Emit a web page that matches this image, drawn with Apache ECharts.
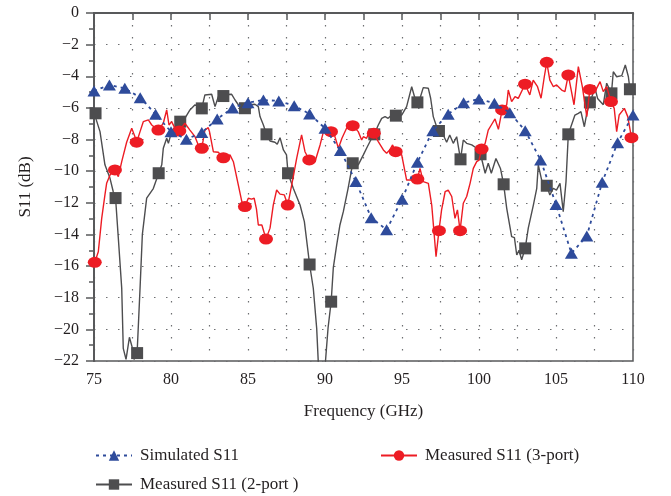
<!DOCTYPE html>
<html>
<head>
<meta charset="utf-8">
<script src="https://cdn.jsdelivr.net/npm/echarts@6/dist/echarts.min.js"></script>
<style>html,body{margin:0;padding:0;background:#fff}#c{width:671px;height:496px}</style>
</head>
<body>
<div id="c"></div>
<script>
// ---- Data ----
const xTicks = [75, 80, 85, 90, 95, 100, 105, 110];
const yTicks = [0, -2, -4, -6, -8, -10, -12, -14, -16, -18, -20, -22];

const simFreq = [75,76,77,78,79,80,81,82,83,84,85,86,87,88,89,90,91,92,93,94,95,96,97,98,99,100,101,102,103,104,105,106,107,108,109,110];
const simS11  = [-4.93,-4.55,-4.76,-5.35,-6.4,-7.5,-7.98,-7.56,-6.7,-6.0,-5.67,-5.5,-5.56,-5.86,-6.38,-7.29,-8.7,-10.66,-12.94,-13.7,-11.78,-9.44,-7.44,-6.4,-5.67,-5.44,-5.71,-6.3,-7.44,-9.29,-12.1,-15.19,-14.1,-10.7,-8.2,-6.45];

const p2Freq = [75.0,75.39,75.71,76.04,76.25,76.58,76.8,76.9,77.08,77.3,77.5,77.6,77.99,78.14,78.42,78.85,79.4,79.5,79.72,79.83,80.04,80.26,80.9,81.23,81.56,82.2,82.64,82.86,83.07,83.6,83.94,84.16,84.37,85.13,85.45,85.67,85.78,86.0,86.43,86.75,86.9,87.08,87.3,87.5,87.94,88.38,88.66,89.24,89.46,89.57,90.0,90.2,90.54,90.76,90.97,91.19,91.5,92.16,92.49,92.7,93.03,93.46,93.68,93.9,94.1,94.33,94.98,95.3,95.63,95.84,96.17,96.38,96.71,96.86,97.03,97.25,97.68,97.9,98.1,98.33,98.55,98.98,99.2,99.53,99.85,100.4,100.6,100.8,101.1,101.4,101.8,102.12,102.3,102.45,102.6,102.77,103.2,103.53,103.75,103.85,104.07,104.6,104.82,105.03,105.26,105.47,105.65,106.23,106.45,106.62,106.84,107.0,107.53,107.7,108.07,108.29,108.72,108.94,109.27,109.5,109.7,110.0];
const p2S11  = [-6.3,-7.5,-9.6,-10.45,-11.3,-14.24,-17.4,-21.2,-21.9,-20.5,-21.2,-21.9,-17.4,-14.0,-11.7,-11.1,-9.6,-8.55,-7.92,-8.24,-7.5,-7.19,-6.66,-6.13,-5.8,-5.18,-5.14,-5.92,-5.29,-5.15,-5.14,-5.5,-5.8,-5.8,-5.77,-5.92,-6.55,-7.08,-8.09,-8.17,-8.3,-7.88,-8.66,-8.97,-11.08,-12.14,-13.19,-17.4,-19.93,-22.2,-22.4,-19.9,-16.1,-14.66,-13.4,-12.56,-11.08,-9.6,-8.97,-8.55,-7.92,-7.08,-6.66,-6.55,-6.66,-6.45,-6.45,-5.92,-4.66,-5.39,-5.39,-4.72,-4.76,-5.39,-6.55,-7.19,-7.71,-8.17,-7.71,-8.24,-7.82,-8.03,-8.24,-8.34,-8.55,-10.13,-9.5,-10.13,-9.2,-9.85,-12.35,-14.14,-14.2,-15.3,-15.0,-15.6,-13.6,-12.14,-11.08,-9.6,-10.56,-11.5,-11.08,-11.2,-10.77,-12.56,-10.66,-6.45,-6.34,-6.24,-7.19,-6.34,-4.76,-5.4,-5.8,-4.44,-3.71,-4.03,-3.96,-3.29,-4.03,-4.9];
const p2MarkFreq = [75.1,76.4,77.8,79.2,80.6,82.0,83.4,84.8,86.2,87.6,89.0,90.4,91.8,93.2,94.6,96.0,97.4,98.8,100.1,101.6,103.0,104.4,105.8,107.2,108.6,109.8];
const p2MarkS11  = [-6.34,-11.7,-21.5,-10.13,-6.87,-6.03,-5.25,-6.02,-7.67,-10.13,-15.9,-18.25,-9.5,-7.67,-6.49,-5.65,-7.46,-9.25,-8.93,-10.83,-14.88,-10.92,-7.67,-5.65,-5.08,-4.82];

const p3Freq = [75.28,75.5,75.71,75.82,76.04,76.58,76.8,77.12,77.45,77.66,77.99,78.2,78.53,78.75,79.5,79.72,79.87,80.04,80.26,80.9,81.23,81.56,81.77,82.2,82.42,82.5,82.75,83.07,83.83,84.05,84.37,84.6,85.02,85.23,85.4,85.55,85.67,85.9,86.43,86.64,86.86,87.08,87.36,87.84,88.16,88.48,88.7,89.35,89.68,89.9,90.2,90.6,90.87,91.1,91.4,92.16,92.38,92.49,92.7,92.92,93.46,93.79,94.0,94.2,94.39,94.98,95.3,95.63,96.17,96.38,96.71,96.93,97.21,97.57,97.8,98.0,98.23,98.44,98.6,98.98,99.2,99.42,99.63,99.85,100.0,100.4,100.6,100.8,101.04,101.26,101.8,101.9,102.12,102.34,102.55,103.3,103.52,103.8,104.03,104.24,104.6,104.83,105.04,105.37,105.58,106.17,106.45,106.71,107.0,107.53,107.86,108.07,108.29,108.78,108.94,109.1,109.44,109.66,110.0];
const p3S11  = [-15.09,-12.98,-11.5,-10.77,-10.24,-10.35,-9.4,-8.17,-7.29,-7.82,-7.5,-6.87,-6.76,-7.08,-6.97,-6.13,-7.08,-6.87,-7.29,-6.97,-7.4,-7.82,-8.34,-7.4,-7.25,-7.5,-8.77,-8.8,-8.97,-9.4,-10.87,-11.93,-11.71,-11.77,-11.71,-12.4,-13.4,-13.4,-13.6,-12.14,-11.19,-11.45,-11.5,-10.87,-9.19,-7.71,-8.77,-9.4,-8.34,-7.5,-7.67,-7.67,-8.55,-7.92,-7.29,-7.5,-8.03,-7.82,-7.92,-7.4,-8.13,-8.66,-8.87,-8.66,-8.34,-8.97,-10.56,-10.56,-9.82,-10.66,-10.77,-12.14,-15.4,-12.45,-11.3,-11.2,-11.6,-12.98,-12.45,-12.03,-11.6,-10.77,-9.82,-9.4,-9.3,-8.24,-7.4,-7.08,-6.7,-7.35,-5.8,-4.87,-5.6,-5.29,-5.4,-5.18,-4.24,-4.66,-5.39,-4.03,-4.24,-4.66,-4.55,-4.87,-4.97,-5.8,-3.39,-4.66,-6.55,-4.97,-4.34,-4.97,-4.66,-6.03,-7.5,-6.45,-6.03,-6.55,-7.9];
const p3MarkFreq = [75.05,76.36,77.77,79.18,80.54,82.0,83.4,84.8,86.17,87.58,88.98,90.39,91.8,93.17,94.59,96.0,97.4,98.77,100.17,101.5,102.99,104.4,105.8,107.2,108.57,109.9];
const p3MarkS11  = [-15.76,-9.92,-8.17,-7.4,-7.46,-8.55,-9.15,-12.24,-14.29,-12.14,-9.29,-7.5,-7.12,-7.6,-8.77,-10.5,-13.76,-13.76,-8.6,-6.13,-4.5,-3.12,-3.92,-4.83,-5.6,-7.88];

const seriesNames = ['Simulated S11', 'Measured S11 (2-port )', 'Measured S11 (3-port)'];

// ---- Build merged line data (trace points without symbol, marker points with symbol) ----
function merged(tf, tv, mf, mv) {
  const pts = [];
  tf.forEach((f, i) => pts.push({ value: [f, tv[i]], symbol: 'none' }));
  mf.forEach((f, i) => pts.push({ value: [f, mv[i]] }));
  pts.sort((a, b) => a.value[0] - b.value[0]);
  return pts;
}

const FONT = '"Liberation Serif", "DejaVu Serif", serif';
const TXT = '#231f20';
const AX = '#58595b';
const minus = v => String(v).replace('-', '\u2212');

const chart = echarts.init(document.getElementById('c'), null, { renderer: 'canvas' });
chart.setOption({
  animation: false,
  grid: { left: 94, right: 38, top: 13, bottom: 135, show: true, borderColor: AX, borderWidth: 1.5, backgroundColor: 'transparent' },
  xAxis: {
    type: 'value', min: 75, max: 110, interval: 2.5,
    name: 'Frequency (GHz)', nameLocation: 'middle', nameGap: 42,
    nameTextStyle: { fontFamily: FONT, fontSize: 17, color: TXT },
    axisLine: { lineStyle: { color: AX, width: 2 } },
    axisTick: { length: 7, lineStyle: { color: AX, width: 1.5 } },
    axisLabel: { margin: 11, fontFamily: FONT, fontSize: 16, color: TXT,
      formatter: v => (xTicks.indexOf(v) >= 0 ? String(v) : '') },
    splitLine: { show: true, lineStyle: { color: '#6d6e71', width: 1.2, type: [1.5, 10.5] } }
  },
  yAxis: {
    type: 'value', min: -22, max: 0, interval: 2,
    name: 'S11 (dB)', nameLocation: 'middle', nameGap: 60,
    nameTextStyle: { fontFamily: FONT, fontSize: 17, color: TXT },
    axisLine: { lineStyle: { color: AX, width: 2 } },
    axisTick: { length: 8, lineStyle: { color: AX, width: 1.5 } },
    minorTick: { show: true, splitNumber: 2, length: 5, lineStyle: { color: AX, width: 1.5 } },
    axisLabel: { margin: 15, fontFamily: FONT, fontSize: 16, color: TXT,
      formatter: v => (yTicks.indexOf(v) >= 0 ? minus(v) : '') },
    splitLine: { show: true, lineStyle: { color: '#6d6e71', width: 1.2, type: [1.5, 10.5] } }
  },
  legend: [
    { orient: 'vertical', left: 95, top: 447, padding: 0, itemWidth: 36, itemHeight: 13, itemGap: 12,
      data: [seriesNames[0], seriesNames[1]],
      textStyle: { fontFamily: FONT, fontSize: 17, color: TXT, padding: [0, 0, 0, 3] } },
    { orient: 'vertical', left: 380, top: 447, padding: 0, itemWidth: 36, itemHeight: 13,
      data: [seriesNames[2]],
      textStyle: { fontFamily: FONT, fontSize: 17, color: TXT, padding: [0, 0, 0, 3] } }
  ],
  series: [
    { name: seriesNames[1], type: 'line', z: 3,
      data: merged(p2Freq, p2S11, p2MarkFreq, p2MarkS11),
      symbol: 'rect', symbolSize: 12, showAllSymbol: true,
      lineStyle: { color: '#4d4d4f', width: 1.4 }, itemStyle: { color: '#4d4d4f' } },
    { name: seriesNames[2], type: 'line', z: 4,
      data: merged(p3Freq, p3S11, p3MarkFreq, p3MarkS11),
      symbol: 'circle', symbolSize: [14, 11], showAllSymbol: true,
      lineStyle: { color: '#ed1c24', width: 1.4 }, itemStyle: { color: '#ed1c24' } },
    { name: seriesNames[0], type: 'line', z: 5,
      data: simFreq.map((f, i) => [f, simS11[i]]),
      symbol: 'triangle', symbolSize: [13, 11], showAllSymbol: true,
      lineStyle: { color: '#2e4b9b', width: 1.8, type: [3, 4] }, itemStyle: { color: '#2e4b9b' } }
  ]
});
</script>
</body>
</html>
